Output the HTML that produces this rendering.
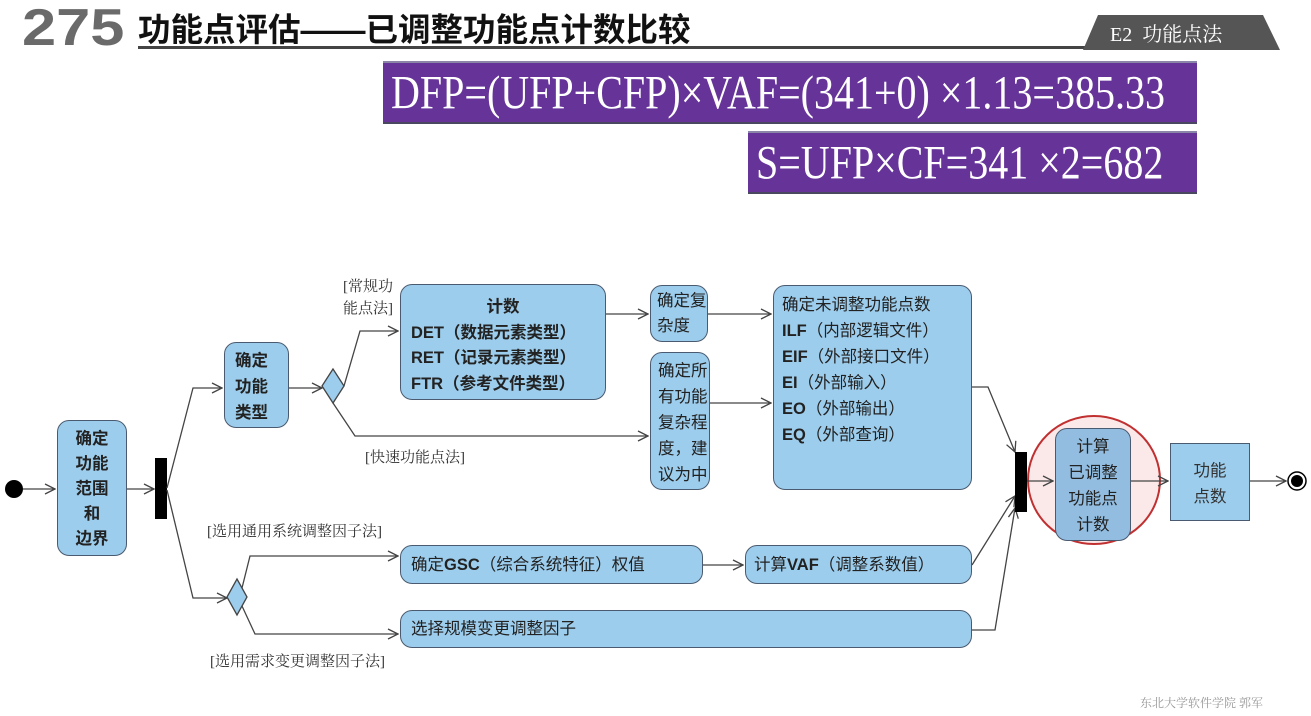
<!DOCTYPE html>
<html><head><meta charset="utf-8"><style>
*{margin:0;padding:0;box-sizing:border-box}
body{width:1311px;height:716px;background:#fff;position:relative;overflow:hidden;font-family:"Liberation Sans","Noto Sans CJK SC",sans-serif}
.a{position:absolute}
.b{position:absolute;background:#9dcdec;border:1.5px solid #4a5a70;border-radius:12px;color:#222;font-size:16.5px;line-height:24px}
.p{position:absolute;background:#663399;border-top:2px solid #8a86a8;border-bottom:2px solid #4a4860}
.p span{position:absolute;color:#fff;font-family:"Liberation Serif","Noto Serif CJK SC",serif;font-size:40px;white-space:nowrap;transform:scaleY(1.2);transform-origin:left center}
.l{position:absolute;font-family:"Liberation Serif","Noto Serif CJK SC",serif;font-size:15px;color:#333;line-height:22px}
b{font-weight:bold}
</style></head><body>
<div class="a" style="left:22px;top:-2px;font-size:52px;font-weight:bold;color:#6a6a6a;transform:scaleX(1.18);transform-origin:left top">275</div>
<div class="a" style="left:138px;top:4px;font-size:32.5px;font-weight:bold;color:#111">功能点评估——已调整功能点计数比较</div>
<div class="a" style="left:138px;top:46px;width:960px;height:3px;background:#444"></div>
<svg class="a" style="left:0;top:0" width="1311" height="60"><polygon points="1098,15 1263,15 1280,50 1083,50" fill="#555"/></svg>
<div class="a" style="left:1110px;top:18px;font-size:20px;color:#fff;font-family:'Liberation Serif','Noto Serif CJK SC',serif">E2&nbsp; 功能点法</div>
<div class="p" style="left:383px;top:61px;width:814px;height:63px"><span style="left:8px;top:6px">DFP=(UFP+CFP)×VAF=(341+0) ×1.13=385.33</span></div>
<div class="p" style="left:748px;top:131px;width:449px;height:63px"><span style="left:8px;top:6px">S=UFP×CF=341 ×2=682</span></div>

<svg class="a" style="left:0;top:0" width="1311" height="716" fill="none" stroke="#444" stroke-width="1.3">
<defs><marker id="m" markerWidth="12" markerHeight="12" refX="11" refY="6" orient="auto" markerUnits="userSpaceOnUse"><path d="M1,1 L11,6 L1,11" fill="none" stroke="#444" stroke-width="1.3"/></marker></defs>
<circle cx="14" cy="489" r="9" fill="#000" stroke="none"/>
<path d="M23,489 H55" marker-end="url(#m)"/>
<path d="M127,489 H154" marker-end="url(#m)"/>
<rect x="155" y="458" width="12" height="61" fill="#000" stroke="none"/>
<path d="M167,488 L193,388 H222" marker-end="url(#m)"/>
<path d="M167,490 L193,598 H227" marker-end="url(#m)"/>
<path d="M289,388 H322" marker-end="url(#m)"/>
<polygon points="333,369 344,386 333,403 322,386" fill="#9dcdec"/>
<path d="M344,386 L360,331 H398" marker-end="url(#m)"/>
<path d="M333,403 L355,436 H648" marker-end="url(#m)"/>
<path d="M606,314 H648" marker-end="url(#m)"/>
<path d="M708,314 H771" marker-end="url(#m)"/>
<path d="M710,403 H771" marker-end="url(#m)"/>
<polygon points="237,579 247,597 237,615 227,597" fill="#9dcdec"/>
<path d="M242,588 L250,556 H398" marker-end="url(#m)"/>
<path d="M242,606 L255,634 H398" marker-end="url(#m)"/>
<path d="M703,565 H743" marker-end="url(#m)"/>
<path d="M972,387 H988 L1015,452" marker-end="url(#m)"/>
<path d="M972,565 L1015,496" marker-end="url(#m)"/>
<path d="M972,630 H995 L1015,508" marker-end="url(#m)"/>
<ellipse cx="1094" cy="480" rx="66" ry="64" fill="#fbe9ea" stroke="#c03030" stroke-width="2"/>
<rect x="1015" y="452" width="12" height="60" fill="#000" stroke="none"/>
<path d="M1027,481 H1053" marker-end="url(#m)"/>
<path d="M1131,481 H1168" marker-end="url(#m)"/>
<path d="M1250,481 H1286" marker-end="url(#m)"/>
<circle cx="1297" cy="481" r="9" fill="#fff" stroke="#000" stroke-width="1.5"/>
<circle cx="1297" cy="481" r="6" fill="#000" stroke="none"/>
</svg>

<div class="b" style="left:57px;top:420px;width:70px;height:136px;text-align:center;padding-top:6px;font-weight:bold;line-height:25px">确定<br>功能<br>范围<br>和<br>边界</div>
<div class="b" style="left:224px;top:342px;width:65px;height:86px;padding:5px 0 0 10px;font-weight:bold;line-height:26px">确定<br>功能<br>类型</div>
<div class="b" style="left:400px;top:284px;width:206px;height:116px;padding:10px 0 0 10px;font-weight:bold;line-height:25.5px"><div style="text-align:center;padding-right:10px">计数</div>DET（数据元素类型）<br>RET（记录元素类型）<br>FTR（参考文件类型）</div>
<div class="b" style="left:650px;top:285px;width:58px;height:57px;padding:3px 0 0 6px;line-height:25px">确定复<br>杂度</div>
<div class="b" style="left:650px;top:352px;width:60px;height:138px;padding:5px 0 0 7px;line-height:26px">确定所<br>有功能<br>复杂程<br>度，建<br>议为中</div>
<div class="b" style="left:773px;top:285px;width:199px;height:205px;padding:6px 0 0 8px;line-height:26px">确定未调整功能点数<br><b>ILF</b>（内部逻辑文件）<br><b>EIF</b>（外部接口文件）<br><b>EI</b>（外部输入）<br><b>EO</b>（外部输出）<br><b>EQ</b>（外部查询）</div>
<div class="b" style="left:400px;top:545px;width:303px;height:39px;padding:7px 0 0 10px">确定<b>GSC</b>（综合系统特征）权值</div>
<div class="b" style="left:745px;top:545px;width:227px;height:39px;padding:7px 0 0 8px">计算<b>VAF</b>（调整系数值）</div>
<div class="b" style="left:400px;top:610px;width:572px;height:38px;padding:6px 0 0 10px">选择规模变更调整因子</div>
<div class="b" style="left:1055px;top:428px;width:76px;height:113px;text-align:center;padding-top:5px;line-height:26px;background:#92bde0">计算<br>已调整<br>功能点<br>计数</div>
<div class="b" style="left:1170px;top:443px;width:80px;height:78px;border-radius:0;text-align:center;padding-top:14px;line-height:26px;color:#333">功能<br>点数</div>

<div class="l" style="left:343px;top:276px">[常规功<br>能点法]</div>
<div class="l" style="left:365px;top:447px">[快速功能点法]</div>
<div class="l" style="left:207px;top:521px">[选用通用系统调整因子法]</div>
<div class="l" style="left:210px;top:651px">[选用需求变更调整因子法]</div>
<div class="a" style="left:1140px;top:694px;font-size:12px;color:#999;font-family:'Liberation Serif','Noto Serif CJK SC',serif">东北大学软件学院 郭军</div>
</body></html>
